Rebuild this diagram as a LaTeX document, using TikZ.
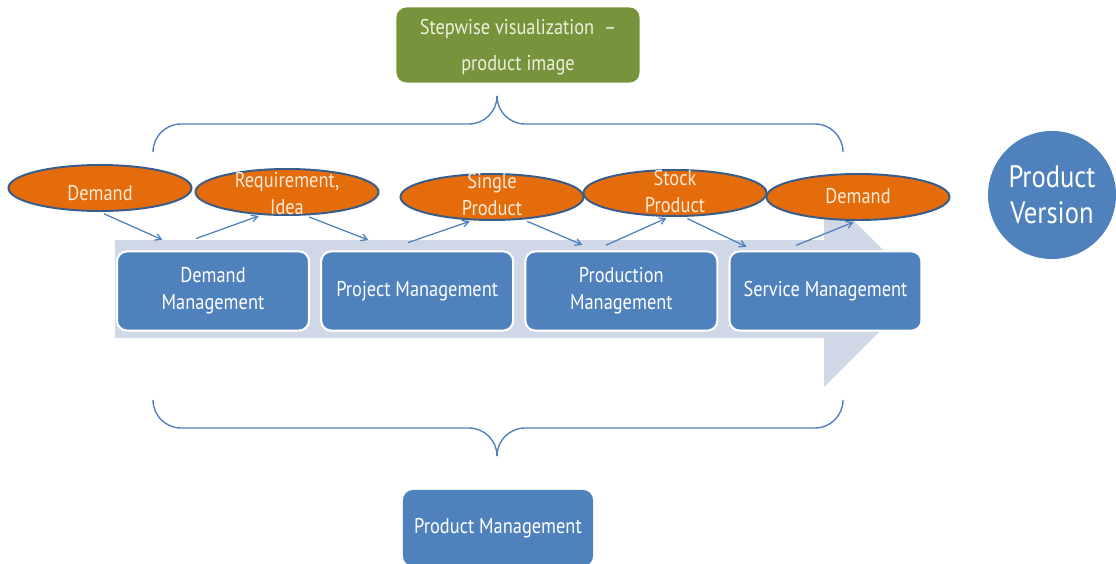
\documentclass[tikz,border=0pt]{standalone}
\usepackage{fontspec}
\setmainfont{PT Sans}[FakeStretch=0.86]
\usepackage{tikz}
\usetikzlibrary{arrows, positioning, shapes}

\definecolor{stageblue}{HTML}{4F81BD}
\definecolor{stageorange}{HTML}{E46C0A}
\definecolor{ellipseline}{HTML}{385D8A}
\definecolor{imagegreen}{HTML}{77933C}
\definecolor{pipefill}{HTML}{D0D8E8}
\definecolor{orangetext}{HTML}{FDEADA}
\definecolor{greentext}{HTML}{EBF1DE}

\newcommand{\stagefont}{\fontsize{15.2}{19.2}\selectfont}
\newcommand{\versionfont}{\fontsize{22}{25.6}\selectfont}
\newcommand{\itemlabel}[2][-4pt]{\smash{\raisebox{#1}{\begin{tabular}{@{}c@{}}#2\end{tabular}}}}

\begin{document}
\begin{tikzpicture}[x=0.025cm, y=-0.025cm,
  stage/.style={draw=white, line width=1.5pt, fill=stageblue, rounded corners=0.25cm,
                text=white, align=center, minimum width=4.8cm, minimum height=1.98cm, font=\stagefont},
  item/.style={draw=ellipseline, line width=1.4pt, fill=stageorange, ellipse, inner sep=0pt,
               minimum width=4.575cm, minimum height=1.15cm, text=orangetext, font=\stagefont},
  flow/.style={draw=stageblue, line width=0.9pt, -angle 60, shorten <=3pt, shorten >=2pt},
  brace/.style={draw=stageblue, line width=1pt, rounded corners=0.7cm}]

\useasboundingbox (0,0) rectangle (1116,564);

% pipeline arrow behind the stages
\fill [pipefill] (115,240) -- (824,240) -- (824,191) -- (922,289) -- (824,387) -- (824,338) -- (115,338) -- cycle;

\node [stage                     ] (dm) at (213,291) {Demand\\Management};
\node [stage, right=0.25cm of dm ] (pm)              {Project Management};
\node [stage, right=0.25cm of pm ] (pr)              {Production\\Management};
\node [stage, right=0.25cm of pr ] (sm)              {Service Management};

\node [item] (e1) at (100,188) {\itemlabel[-9pt]{Demand}};
\node [item] (e2) at (287,192) {\itemlabel[-6pt]{Requirement,\\Idea}};
\node [item] (e3) at (492,197) {\itemlabel[-3pt]{Single\\Product}};
\node [item] (e4) at (675,193) {\itemlabel{Stock\\Product}};
\node [item] (e5) at (858,197) {\raisebox{2pt}{Demand}};

\node [fill=imagegreen, rounded corners=0.25cm, text=greentext, inner sep=0pt,
       minimum width=6.075cm, minimum height=1.875cm, font=\fontsize{15.2}{25.6}\selectfont] (img) at (518,45)
      {\itemlabel{Stepwise visualization~~--\\product image}};

\node [circle, fill=stageblue, minimum size=3.2cm, text=white, align=center, font=\versionfont] (pv) at (1052,195)
      {Product\\Version};

\node [stage, draw=none, minimum width=4.75cm, minimum height=1.9cm] (pmg) at (498,528) {Product Management};

% braces
\path [brace] (153,152) |- (497,124) -- (497,96);
\path [brace] (843,152) |- (497,124) -- (497,96);
\path [brace] (153,400) |- (497,428) -- (497,456);
\path [brace] (843,400) |- (497,428) -- (497,456);

% small arrows between items and the pipeline
\coordinate (p1) at (165,241);
\coordinate (p2) at (192,240);
\coordinate (p3) at (371,241);
\coordinate (p4) at (404,244);
\coordinate (p5) at (585,246);
\coordinate (p6) at (602,247);
\coordinate (p7) at (749,248);
\coordinate (p8) at (792,247);

\path [flow] (e1.270) -- (p1);
\path [flow] (p2) -- (e2.222);
\path [flow] (e2.308) -- (p3);
\path [flow] (p4) -- (e3.230);
\path [flow] (e3.324) -- (p5);
\path [flow] (p6) -- (e4.256);
\path [flow] (e4.290) -- (p7);
\path [flow] (p8) -- (e5.266);

\end{tikzpicture}
\end{document}
